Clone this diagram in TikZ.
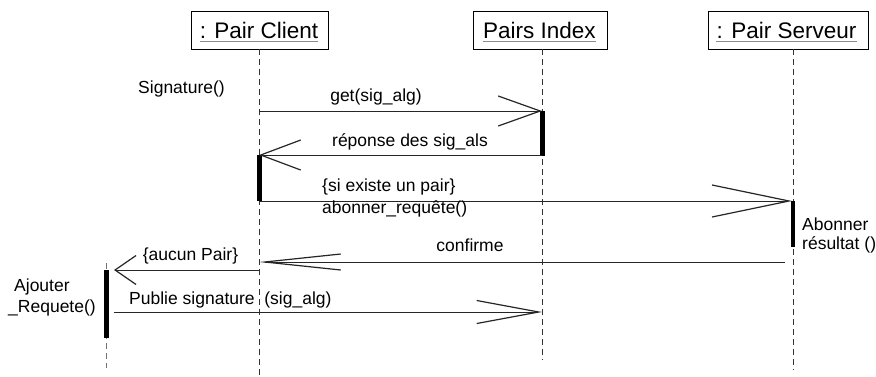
\documentclass[tikz,border=0pt]{standalone}
\usepackage{fontspec}
\setmainfont{Liberation Sans}
\usetikzlibrary{arrows.meta}
\begin{document}
\begin{tikzpicture}[x=1pt,y=-1pt,
  objbox/.style={draw, line width=0.8pt, minimum height=38pt, inner sep=0pt},
  objname/.style={inner sep=0pt, font=\fontsize{22.5}{26}\selectfont},
  uline/.style={draw=black!45, line width=1pt},
  life/.style={draw=black!80, line width=0.8pt, dash pattern=on 6pt off 4pt},
  msg/.style={draw=black!85, line width=0.8pt},
  lbl/.style={inner sep=0pt, font=\fontsize{17.5}{21}\selectfont},
  actbar/.style={fill=black},
  tipA/.style={-{Straight Barb[length=42pt,width=30pt,line width=1.2pt]}},
  tipB/.style={-{Straight Barb[length=40pt,width=30pt,line width=1.2pt]}},
  tipC/.style={-{Straight Barb[length=77pt,width=32pt,line width=1.2pt]}},
  tipD/.style={-{Straight Barb[length=76pt,width=16pt,line width=1.2pt]}},
  tipE/.style={-{Straight Barb[length=21pt,width=29pt,line width=1.2pt]}},
  tipF/.style={-{Straight Barb[length=62pt,width=23pt,line width=1.2pt]}}]
\useasboundingbox[fill=white] (0,0) rectangle (876,376);

% object boxes
\node[objbox, minimum width=137pt] (pc) at (259.5,30) {};
\node[objbox, minimum width=134pt] (pi) at (540,30) {};
\node[objbox, minimum width=160pt] (ps) at (788,30) {};
\node[objname] (pct) at (259,30) {: Pair Client};
\node[objname] (pit) at (539.5,30) {Pairs Index};
\node[objname] (pst) at (786.5,30) {: Pair Serveur};
\foreach \t in {pct,pit,pst}
  \draw[uline] ([yshift=-3pt]\t.base west) -- ([yshift=-3pt]\t.base east);

% lifelines
\coordinate (pcend) at (259,376);
\coordinate (piend) at (542,360);
\coordinate (psend) at (793,370);
\coordinate (ltop) at (106.5,263);
\coordinate (lend) at (106.5,368);
\draw[life] (pc.south -| pcend) -- (pcend);
\draw[life] (pi.south -| piend) -- (piend);
\draw[life] (ps.south -| psend) -- (psend);
\draw[life, draw=black!55] (ltop) -- (lend);

% activation bars
\fill[actbar] (540,111) rectangle (544.5,156);
\fill[actbar] (257,155) rectangle (261.5,201);
\fill[actbar] (790.5,201) rectangle (795,247);
\fill[actbar] (104,270) rectangle (109,338);

% message end points
\coordinate (c1) at (259,111);   \coordinate (i1) at (542,111);
\coordinate (i2) at (542,155);   \coordinate (c2) at (259,155);
\coordinate (c3) at (259,201);   \coordinate (s3) at (792,201);
\coordinate (s4) at (785,262);   \coordinate (c4) at (259,262);
\coordinate (c5) at (259,270);   \coordinate (l5) at (114,270);
\coordinate (l6) at (114,312);   \coordinate (i6) at (542,312);

% messages
\draw[msg, tipA] (c1) -- (i1);
\draw[msg, tipB] (i2) -- (c2);
\draw[msg, tipC] (c3) -- (s3);
\draw[msg, tipD] (s4) -- (c4);
\draw[msg, tipE] (c5) -- (l5);
\draw[msg, tipF] (l6) -- (i6);

% labels
\node[lbl] (sig) at (181.5,89) {Signature()};
\node[lbl] (m1) at (376,97) {get(sig\_alg)};
\node[lbl] (m2) at (410,142) {réponse des sig\_als};
\node[lbl, anchor=west] (m3a) at (322,187) {\{si existe un pair\}};
\node[lbl, anchor=west] (m3b) at (322,209) {abonner\_requête()};
\node[lbl, anchor=west] (ab1) at (802,224) {Abonner};
\node[lbl, anchor=west] (ab2) at (802,245) {résultat ()};
\node[lbl] (m4) at (470,245) {confirme};
\node[lbl] (m5) at (190.5,256) {\{aucun Pair\}};
\node[lbl, anchor=west] (aj1) at (14,287) {Ajouter};
\node[lbl, anchor=west] (aj2) at (8,308) {\_Requete()};
\node[lbl, anchor=west] (m6) at (129,300) {Publie signature\ \ (sig\_alg)};
\end{tikzpicture}
\end{document}
